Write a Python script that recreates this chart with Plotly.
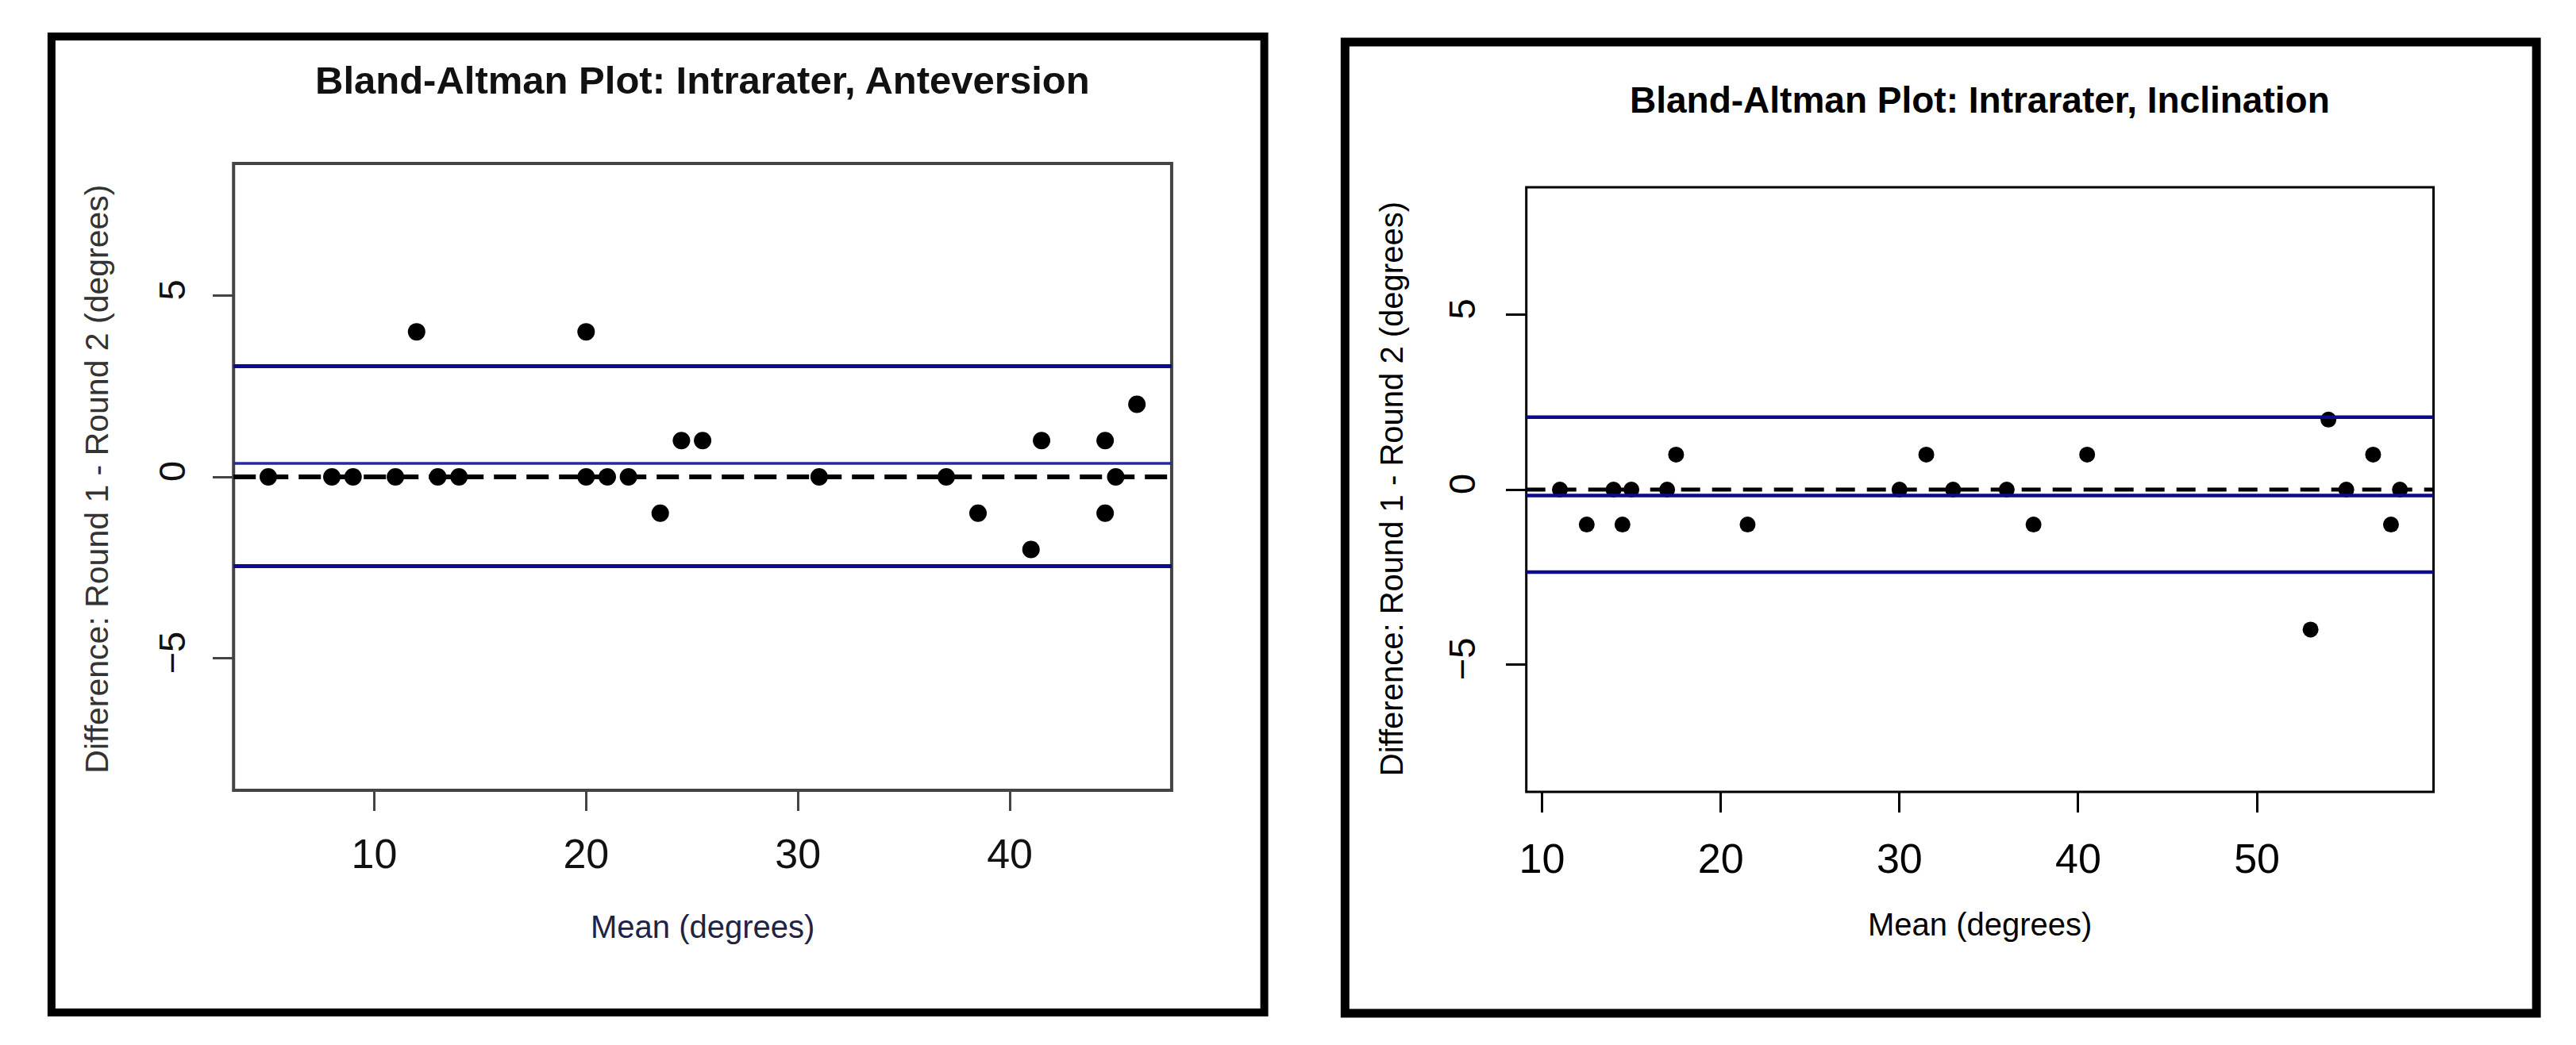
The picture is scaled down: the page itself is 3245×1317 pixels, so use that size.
import plotly.graph_objects as go

W, H = 3245, 1317

# ---------------- data ----------------
# Left panel: Anteversion
ante_mean = [5, 8, 9, 11, 12, 13, 14, 20, 20, 21, 22, 23.5, 24.5, 25.5, 31,
             37, 38.5, 41, 41.5, 44.5, 44.5, 45, 46]
ante_diff = [0, 0, 0, 0, 4, 0, 0, 4, 0, 0, 0, -1, 1, 1, 0,
             0, -1, -2, 1, 1, -1, 0, 2]
ante_bias = 0.37
ante_limits = [3.05, -2.46]

# Right panel: Inclination
incl_mean = [11, 12.5, 14, 14.5, 15, 17, 17.5, 21.5, 30, 31.5, 33, 36, 37.5,
             40.5, 53, 54, 55, 56.5, 57.5, 58]
incl_diff = [0, -1, 0, -1, 0, 0, 1, -1, 0, 1, 0, 0, -1,
             1, -4, 2, 0, 1, -1, 0]
incl_bias = -0.17
incl_limits = [2.07, -2.36]

titles = ["Bland-Altman Plot: Intrarater, Anteversion",
          "Bland-Altman Plot: Intrarater, Inclination"]
x_title = "Mean (degrees)"
y_title = "Difference: Round 1 - Round 2 (degrees)"
ante_xticks = [10, 20, 30, 40]
incl_xticks = [10, 20, 30, 40, 50]
y_ticks = [-5, 0, 5]
ante_xrange = [3.36, 47.64]
incl_xrange = [9.12, 59.88]
y_range = [-8.64, 8.64]

NAVY = "#0b0b8c"
FONT = "Liberation Sans"


def px_x(p):
    return p / W


def px_y(p):
    return 1 - p / H


fig = go.Figure()

fig.add_trace(go.Scatter(x=ante_mean, y=ante_diff, mode="markers",
                         marker=dict(color="black", size=22),
                         xaxis="x", yaxis="y", showlegend=False))
fig.add_trace(go.Scatter(x=incl_mean, y=incl_diff, mode="markers",
                         marker=dict(color="black", size=20),
                         xaxis="x2", yaxis="y2", showlegend=False))

common_axis = dict(showgrid=False, zeroline=False, showline=False,
                   ticks="outside", ticklen=25, tickwidth=3, fixedrange=True)

fig.update_layout(
    width=W, height=H,
    margin=dict(l=0, r=0, t=0, b=0),
    paper_bgcolor="white", plot_bgcolor="white",
    font=dict(family=FONT, color="black"),
    xaxis=dict(domain=[px_x(278), px_x(1463)], range=ante_xrange, anchor="y",
               tickvals=ante_xticks, tickcolor="#444444",
               tickfont=dict(size=52, family=FONT, color="#111111"),
               ticklabelstandoff=10, **common_axis),
    yaxis=dict(domain=[px_y(988), px_y(198)], range=y_range, anchor="x",
               tickvals=y_ticks, tickangle=-90, tickcolor="#444444",
               tickfont=dict(size=47, family=FONT, color="#111111"),
               ticklabelstandoff=16, **common_axis),
    xaxis2=dict(domain=[px_x(1911), px_x(3057)], range=incl_xrange, anchor="y2",
                tickvals=incl_xticks, tickcolor="black",
                tickfont=dict(size=52, family=FONT), ticklabelstandoff=14,
                **common_axis),
    yaxis2=dict(domain=[px_y(990), px_y(228)], range=y_range, anchor="x2",
                tickvals=y_ticks, tickangle=-90, tickcolor="black",
                tickfont=dict(size=47, family=FONT), ticklabelstandoff=20,
                **common_axis),
)

shapes = []
# outer frames
shapes.append(dict(type="rect", xref="paper", yref="paper",
                   x0=px_x(48), x1=px_x(1580), y0=px_y(1268), y1=px_y(38),
                   line=dict(color="black", width=10)))
shapes.append(dict(type="rect", xref="paper", yref="paper",
                   x0=px_x(1682), x1=px_x(3187), y0=px_y(1269), y1=px_y(45),
                   line=dict(color="black", width=11)))

# plot boxes
shapes.append(dict(type="rect", xref="x domain", yref="y domain",
                   x0=0, x1=1, y0=0, y1=1, line=dict(color="#444444", width=4)))
shapes.append(dict(type="rect", xref="x2 domain", yref="y2 domain",
                   x0=0, x1=1, y0=0, y1=1, line=dict(color="black", width=3)))

# limits of agreement and bias
for v in ante_limits:
    shapes.append(dict(type="line", xref="x domain", yref="y", x0=0, x1=1,
                       y0=v, y1=v, line=dict(color=NAVY, width=5)))
shapes.append(dict(type="line", xref="x domain", yref="y", x0=0, x1=1,
                   y0=ante_bias, y1=ante_bias,
                   line=dict(color="#2a2aa0", width=3.5)))
for v in incl_limits + [incl_bias]:
    shapes.append(dict(type="line", xref="x2 domain", yref="y2", x0=0, x1=1,
                       y0=v, y1=v, line=dict(color=NAVY, width=4.5)))

# zero reference lines
shapes.append(dict(type="line", xref="x domain", yref="y", x0=0, x1=1,
                   y0=0, y1=0, line=dict(color="black", width=6, dash="28px,13px")))
shapes.append(dict(type="line", xref="x2 domain", yref="y2", x0=0, x1=1,
                   y0=0, y1=0, line=dict(color="black", width=5, dash="24px,15px")))

fig.update_layout(shapes=shapes)

annotations = [
    dict(text="<b>" + titles[0] + "</b>", xref="paper", yref="paper",
         x=px_x(870), y=px_y(93), showarrow=False,
         font=dict(size=49, family=FONT, color="#111111"),
         xanchor="center", yanchor="middle"),
    dict(text="<b>" + titles[1] + "</b>", xref="paper", yref="paper",
         x=px_x(2484), y=px_y(118), showarrow=False,
         font=dict(size=46, family=FONT, color="black"),
         xanchor="center", yanchor="middle"),
    dict(text=x_title, xref="paper", yref="paper",
         x=px_x(870), y=px_y(1160), showarrow=False,
         font=dict(size=40, family=FONT, color="#222244"),
         xanchor="center", yanchor="middle"),
    dict(text=x_title, xref="paper", yref="paper",
         x=px_x(2484), y=px_y(1157), showarrow=False,
         font=dict(size=40, family=FONT, color="black"),
         xanchor="center", yanchor="middle"),
    dict(text=y_title, xref="paper", yref="paper",
         x=px_x(105), y=px_y(596), showarrow=False, textangle=-90,
         font=dict(size=41, family=FONT, color="#333333"),
         xanchor="center", yanchor="middle"),
    dict(text=y_title, xref="paper", yref="paper",
         x=px_x(1741), y=px_y(608), showarrow=False, textangle=-90,
         font=dict(size=40, family=FONT, color="black"),
         xanchor="center", yanchor="middle"),
]
fig.update_layout(annotations=annotations)

fig.write_html("out.html")
